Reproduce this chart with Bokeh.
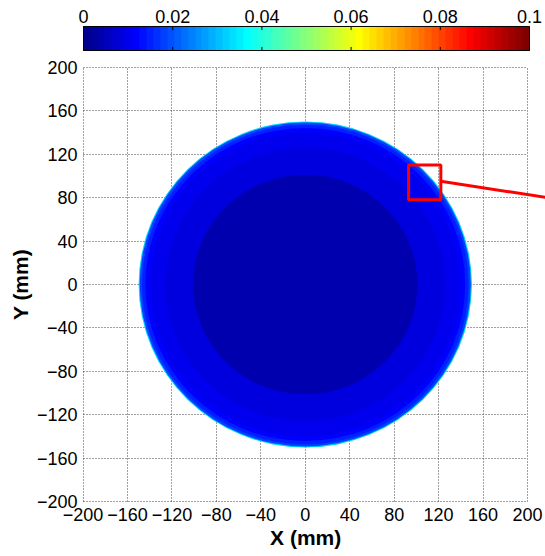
import numpy as np
from bokeh.plotting import figure
from bokeh.models import (LinearColorMapper, FixedTicker, Grid, Title,
                          ColumnDataSource, Range1d, CustomJSTickFormatter)
from bokeh.layouts import column
from bokeh.embed import file_html
from bokeh.resources import INLINE

# ---------------- data ----------------
ring_radius = [150, 149, 147, 144, 140, 126, 101]          # mm, outer -> inner
ring_value = [0.032, 0.018, 0.015, 0.012, 0.010, 0.0085, 0.004]
ring_center_x = [0, 0, 0, 0, 0, 0, 0]
ring_center_y = [0, 0, 0, 0, 0, 0, 0]

axis_ticks = [-200, -160, -120, -80, -40, 0, 40, 80, 120, 160, 200]
cbar_ticks = [0, 0.02, 0.04, 0.06, 0.08, 0.1]
cbar_labels = ["0", "0.02", "0.04", "0.06", "0.08", "0.1"]
cbar_low, cbar_high = 0.0, 0.1
x_title, y_title = "X (mm)", "Y (mm)"

inset_left, inset_right = [93], [122]
inset_bottom, inset_top = [78], [110]
callout_x = [122, 217]
callout_y = [95, 80]

FONT = "Liberation Sans"
W = 545          # window width
LEFT = 82        # left edge of both frames (px)
BAR_W = 446      # colour-bar length (px)
MAP_W = 445      # map width for -200..200 (px)
XTITLE_W = 71    # approx. width of the bold x title (px)


def jet(m=64):
    n = int(np.ceil(m / 4))
    u = np.concatenate([np.arange(1, n + 1) / n, np.ones(n - 1), np.arange(n, 0, -1) / n])
    g = int(np.ceil(n / 2)) - (1 if m % 4 == 1 else 0) + np.arange(1, len(u) + 1)
    r = g + n
    b = g - n
    J = np.zeros((m, 3))
    for idx, col in ((r, 0), (g, 1), (b, 2)):
        mask = (idx >= 1) & (idx <= m)
        J[idx[mask] - 1, col] = u[mask]
    return ["#%02x%02x%02x" % tuple(int(round(c * 255)) for c in row) for row in J]


palette = jet(64)
mapper = LinearColorMapper(palette=palette, low=cbar_low, high=cbar_high)

# ---------------- colour bar figure (frame runs to the window edge) ----------------
span = cbar_high - cbar_low
cb_pad = span / BAR_W
cb_x = Range1d(cbar_low - cb_pad, cbar_low - cb_pad + span * (W - LEFT) / BAR_W)
cb = figure(width=W, height=56, x_range=cb_x, y_range=Range1d(-0.04, 1.04),
            output_backend="svg", toolbar_location=None, x_axis_location="above",
            min_border_left=LEFT - 1, min_border_right=0, min_border_top=25, min_border_bottom=5)
nb = len(palette)
ramp = cbar_low + (np.arange(nb) + 0.5) / nb * span
cb.image(image=[ramp[None, :]], x=cbar_low, y=0, dw=span, dh=1, color_mapper=mapper)
cb.segment(x0=cbar_ticks, x1=cbar_ticks, y0=[0] * len(cbar_ticks), y1=[0.15] * len(cbar_ticks),
           line_color="black", line_width=1)
cb.segment(x0=cbar_ticks, x1=cbar_ticks, y0=[1] * len(cbar_ticks), y1=[0.85] * len(cbar_ticks),
           line_color="black", line_width=1)
cb.quad(left=[cbar_low], right=[cbar_high], bottom=[0], top=[1],
        fill_color=None, line_color="black", line_width=1)
cb.yaxis.visible = False
cb.grid.visible = False
cb.outline_line_color = None
fmt = CustomJSTickFormatter(args=dict(lbls=cbar_labels, tvals=cbar_ticks),
                            code="const i = tvals.findIndex(t => Math.abs(t - tick) < 1e-9); return i >= 0 ? lbls[i] : '';")
ax = cb.xaxis[0]
ax.ticker = FixedTicker(ticks=cbar_ticks)
ax.bounds = (cbar_low, cbar_high)
ax.formatter = fmt
ax.major_tick_in = 0
ax.major_tick_out = 0
ax.minor_tick_line_color = None
ax.axis_line_color = None
ax.major_label_standoff = 3
ax.major_label_text_font = FONT
ax.major_label_text_font_size = "18px"
ax.major_label_text_color = "black"

# ---------------- main map figure (frame runs to the window edge) ----------------
lo, hi = axis_ticks[0], axis_ticks[-1]
px_per_mm = MAP_W / (hi - lo + 0.5)
x_view = Range1d(lo - 0.5, lo - 0.5 + (W - LEFT) / px_per_mm)
y_view = Range1d(lo - 0.5, hi + 0.5)
p = figure(width=W, height=500, x_range=x_view, y_range=y_view,
           output_backend="svg", toolbar_location=None,
           min_border_left=LEFT, min_border_right=0, min_border_top=10, min_border_bottom=54)
p.outline_line_color = None

src = ColumnDataSource(dict(x=ring_center_x, y=ring_center_y,
                            d=[2 * r for r in ring_radius], v=ring_value))
p.ellipse(x="x", y="y", width="d", height="d", source=src,
          fill_color={"field": "v", "transform": mapper}, line_color=None)

p.quad(left=inset_left, right=inset_right, bottom=inset_bottom, top=inset_top,
       fill_color=None, line_color="red", line_width=3)
p.line(x=callout_x, y=callout_y, line_color="red", line_width=3)

for g in (p.xgrid, p.ygrid):
    g.ticker = FixedTicker(ticks=axis_ticks)
    g.grid_line_color = "#404040"
    g.grid_line_dash = "1 2"
    g.grid_line_width = 1
    g.bounds = (lo, hi)
    if "cross_bounds" in Grid.properties():
        g.cross_bounds = (lo, hi)

for a in (p.xaxis[0], p.yaxis[0]):
    a.ticker = FixedTicker(ticks=axis_ticks)
    a.bounds = (lo, hi)
    a.axis_line_color = None
    a.major_tick_in = 0
    a.major_tick_out = 0
    a.minor_tick_line_color = None
    a.major_label_standoff = 5
    a.major_label_text_font = FONT
    a.major_label_text_font_size = "18px"
    a.major_label_text_color = "black"

ya = p.yaxis[0]
ya.axis_label = y_title
ya.axis_label_text_font = FONT
ya.axis_label_text_font_size = "21px"
ya.axis_label_text_font_style = "bold"
ya.axis_label_text_color = "black"
ya.axis_label_standoff = 2

# x title centred under x = 0 (the frame itself runs past x = 200)
x_mid_px = MAP_W / 2 + 0.5 * px_per_mm
p.add_layout(Title(text=x_title, align="left", offset=x_mid_px - XTITLE_W / 2, standoff=0,
                   text_font=FONT, text_font_size="21px", text_font_style="bold",
                   text_color="black"), "below")

layout = column(cb, p, spacing=0)
open("out.html", "w").write(file_html(layout, INLINE))
